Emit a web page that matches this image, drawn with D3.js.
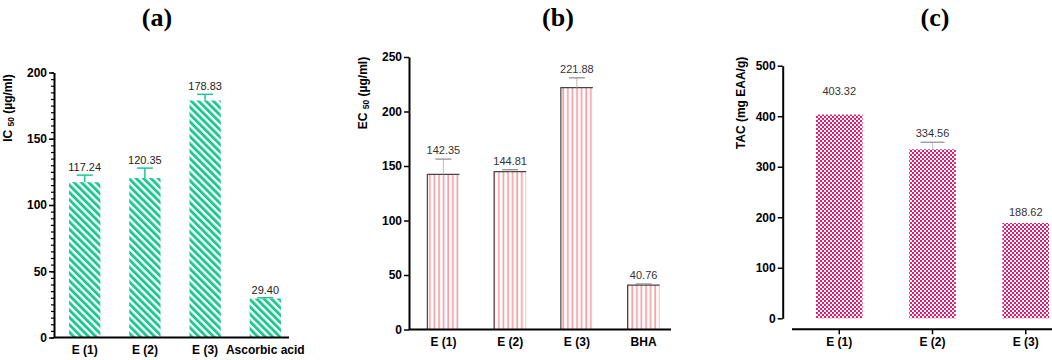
<!DOCTYPE html>
<html>
<head>
<meta charset="utf-8">
<script src="https://cdn.jsdelivr.net/npm/d3@7"></script>
<style>
  html, body { margin: 0; padding: 0; background: #fff; }
  svg { display: block; font-family: "Liberation Sans", Arial, sans-serif; }
</style>
</head>
<body>
<div id="chart"></div>
<script>
// ---- data ----
// (a) DPPH IC50
const aCategories = ['E (1)', 'E (2)', 'E (3)', 'Ascorbic acid'];
const aValues = [117.24, 120.35, 178.83, 29.40];
const aErrors = [5.3, 7.5, 4.7, 0.6];
const aTicks = [0, 50, 100, 150, 200];

// (b) EC50
const bCategories = ['E (1)', 'E (2)', 'E (3)', 'BHA'];
const bValues = [142.35, 144.81, 221.88, 40.76];
const bErrors = [14, 1.8, 9, 1];
const bTicks = [0, 50, 100, 150, 200, 250];

// (c) TAC
const cCategories = ['E (1)', 'E (2)', 'E (3)'];
const cValues = [403.32, 334.56, 188.62];
const cErrors = [28, 14, 3];
const cErrorShown = [false, true, true];
const cTicks = [0, 100, 200, 300, 400, 500];

const W = 1052, H = 360;
const svg = d3.select('#chart').append('svg')
  .attr('width', W).attr('height', H)
  .attr('viewBox', `0 0 ${W} ${H}`);

// 图案
const defs = svg.append('defs');
const pa = defs.append('pattern')
  .attr('id', 'greenStripe')
  .attr('patternUnits', 'userSpaceOnUse')
  .attr('width', 5.2).attr('height', 10)
  .attr('patternTransform', 'rotate(-45)');
pa.append('rect').attr('width', 5.2).attr('height', 10).attr('fill', '#fff');
pa.append('rect').attr('width', 2.9).attr('height', 10).attr('fill', '#1cc88e');

const pb = defs.append('pattern')
  .attr('id', 'pinkStripe')
  .attr('patternUnits', 'userSpaceOnUse')
  .attr('width', 4.6).attr('height', 10);
pb.append('rect').attr('width', 4.6).attr('height', 10).attr('fill', '#fff');
pb.append('rect').attr('x', 1.2).attr('width', 1.7).attr('height', 10).attr('fill', '#f6a1a6');

const pc = defs.append('pattern')
  .attr('id', 'checker')
  .attr('patternUnits', 'userSpaceOnUse')
  .attr('width', 4).attr('height', 4);
pc.append('rect').attr('width', 4).attr('height', 4).attr('fill', '#fff');
pc.append('rect').attr('width', 2).attr('height', 2).attr('fill', '#e8196b');
pc.append('rect').attr('x', 2).attr('y', 2).attr('width', 2).attr('height', 2).attr('fill', '#e8196b');

function panelTitle(text, x) {
  svg.append('text')
    .attr('x', x).attr('y', 26)
    .attr('text-anchor', 'middle')
    .style('font-family', '"Liberation Serif", "Times New Roman", serif')
    .style('font-weight', 'bold')
    .style('font-size', '26px')
    .text(text);
}

function yLabel(x, y, main, sub, rest) {
  const t = svg.append('text')
    .attr('transform', `translate(${x},${y}) rotate(-90)`)
    .attr('text-anchor', 'middle')
    .style('font-weight', 'bold')
    .style('font-size', '12px');
  t.append('tspan').text(main);
  if (sub) t.append('tspan').style('font-size', '8.5px').attr('dy', 2).text(sub);
  t.append('tspan').attr('dy', sub ? -2 : 0).text(rest);
}

function styleAxis(g) {
  g.select('.domain').attr('stroke', '#000').attr('stroke-width', 2);
  g.selectAll('.tick line').attr('stroke', '#000').attr('stroke-width', 1.5);
  g.selectAll('.tick text')
    .style('font-family', '"Liberation Sans", Arial, sans-serif')
    .style('font-weight', 'bold')
    .style('font-size', '12px')
    .attr('fill', '#000');
}

// ---- (a) ----
panelTitle('(a)', 157);
{
  const left = 54, top = 72.5, bottom = 337.5;
  const x = d3.scaleBand().domain(aCategories).range([left, 296]).paddingInner(0.48).paddingOuter(0.25);
  const y = d3.scaleLinear().domain([0, 200]).range([bottom, top]);
  const g = svg.append('g');

  g.selectAll('rect.bar').data(aValues).join('rect')
    .attr('class', 'bar')
    .attr('x', (d, i) => x(aCategories[i]))
    .attr('y', d => y(d))
    .attr('width', x.bandwidth())
    .attr('height', d => bottom - y(d))
    .attr('fill', 'url(#greenStripe)');

  // 误差线
  aValues.forEach((v, i) => {
    const cx = x(aCategories[i]) + x.bandwidth() / 2;
    const yt = y(v + aErrors[i]);
    g.append('line').attr('x1', cx).attr('x2', cx).attr('y1', y(v)).attr('y2', yt)
      .attr('stroke', '#1cc88e').attr('stroke-width', 1.5);
    g.append('line').attr('x1', cx - 8).attr('x2', cx + 8).attr('y1', yt).attr('y2', yt)
      .attr('stroke', '#1cc88e').attr('stroke-width', 1.5);
    g.append('text').attr('x', cx).attr('y', yt - 4)
      .attr('text-anchor', 'middle').style('font-size', '11px').attr('fill', '#222')
      .text(v.toFixed(2));
  });

  // 次刻度
  g.append('g').attr('transform', `translate(${left},0)`)
    .call(d3.axisLeft(y).tickValues(d3.range(0, 201, 5)).tickSize(3).tickFormat(''))
    .call(a => { a.select('.domain').remove(); a.selectAll('line').attr('stroke', '#000').attr('stroke-width', 1.2); });
  g.append('g').attr('transform', `translate(${left},0)`)
    .call(d3.axisLeft(y).tickValues(aTicks).tickSize(5).tickSizeOuter(0).tickPadding(2))
    .call(styleAxis);
  g.append('g').attr('transform', `translate(0,${bottom})`)
    .call(d3.axisBottom(x).tickSize(0).tickPadding(8))
    .call(styleAxis)
    .call(a => a.select('.domain').attr('d', `M${left},0H289`));

  yLabel(12, 108, 'IC ', '50', ' (µg/ml)');
}

// ---- (b) ----
panelTitle('(b)', 558);
{
  const left = 409, top = 57, bottom = 329.5;
  const x = d3.scaleBand().domain(bCategories).range([left, 678]).paddingInner(0.52).paddingOuter(0.275);
  const y = d3.scaleLinear().domain([0, 250]).range([bottom, top]);
  const g = svg.append('g');

  g.selectAll('rect.bar').data(bValues).join('rect')
    .attr('class', 'bar')
    .attr('x', (d, i) => x(bCategories[i]))
    .attr('y', d => y(d))
    .attr('width', x.bandwidth())
    .attr('height', d => bottom - y(d))
    .attr('fill', 'url(#pinkStripe)');
  // 左边和顶边
  g.selectAll('path.edge').data(bValues).join('path')
    .attr('class', 'edge')
    .attr('d', (d, i) => {
      const x0 = x(bCategories[i]);
      return `M${x0},${bottom}V${y(d)}H${x0 + x.bandwidth()}`;
    })
    .attr('fill', 'none').attr('stroke', '#444').attr('stroke-width', 1.2);

  bValues.forEach((v, i) => {
    const cx = x(bCategories[i]) + x.bandwidth() / 2;
    const yt = y(v + bErrors[i]);
    g.append('line').attr('x1', cx).attr('x2', cx).attr('y1', y(v)).attr('y2', yt)
      .attr('stroke', '#bbb').attr('stroke-width', 1);
    g.append('line').attr('x1', cx - 8).attr('x2', cx + 8).attr('y1', yt).attr('y2', yt)
      .attr('stroke', '#888').attr('stroke-width', 1.2);
    g.append('text').attr('x', cx).attr('y', yt - 5)
      .attr('text-anchor', 'middle').style('font-size', '11px').attr('fill', '#333')
      .text(v.toFixed(2));
  });

  g.append('g').attr('transform', `translate(${left},0)`)
    .call(d3.axisLeft(y).tickValues(bTicks).tickSize(5).tickSizeOuter(0).tickPadding(2))
    .call(styleAxis);
  g.append('g').attr('transform', `translate(0,${bottom})`)
    .call(d3.axisBottom(x).tickSize(0).tickPadding(8))
    .call(styleAxis)
    .call(a => a.select('.domain').attr('d', `M${left},0H671`));

  yLabel(367, 93, 'EC ', '50', ' (µg/ml)');
}

// ---- (c) ----
panelTitle('(c)', 935);
{
  const left = 782.7, top = 65.7, bottom = 318.3, xAxisY = 329.3;
  const x = d3.scaleBand().domain(cCategories).range([792, 1073]).paddingInner(0.5).paddingOuter(0.257);
  const y = d3.scaleLinear().domain([0, 500]).range([bottom, top]);
  const g = svg.append('g');

  g.selectAll('rect.bar').data(cValues).join('rect')
    .attr('class', 'bar')
    .attr('x', (d, i) => x(cCategories[i]))
    .attr('y', d => y(d))
    .attr('width', x.bandwidth())
    .attr('height', d => bottom - y(d))
    .attr('fill', 'url(#checker)');

  cValues.forEach((v, i) => {
    const cx = x(cCategories[i]) + x.bandwidth() / 2;
    const yt = y(v + cErrors[i]);
    if (cErrorShown[i]) {
      g.append('line').attr('x1', cx).attr('x2', cx).attr('y1', y(v)).attr('y2', yt)
        .attr('stroke', '#ccc').attr('stroke-width', 1);
      if (cErrors[i] > 5) {
        g.append('line').attr('x1', cx - 12).attr('x2', cx + 12).attr('y1', yt).attr('y2', yt)
          .attr('stroke', '#777').attr('stroke-width', 1);
      }
    }
    g.append('text').attr('x', cx).attr('y', yt - 5)
      .attr('text-anchor', 'middle').style('font-size', '11px').attr('fill', '#333')
      .text(v.toFixed(2));
  });

  g.append('g').attr('transform', `translate(${left},0)`)
    .call(d3.axisLeft(y).tickValues(cTicks).tickSize(5).tickSizeOuter(0).tickPadding(2))
    .call(styleAxis);
  g.append('g').attr('transform', `translate(0,${xAxisY})`)
    .call(d3.axisBottom(x).tickSize(5).tickSizeOuter(0).tickPadding(3))
    .call(styleAxis)
    .call(a => a.select('.domain').attr('d', `M792,0H1052`));

  yLabel(745, 103, 'TAC (mg EAA/g)', null, '');
}
</script>
</body>
</html>
